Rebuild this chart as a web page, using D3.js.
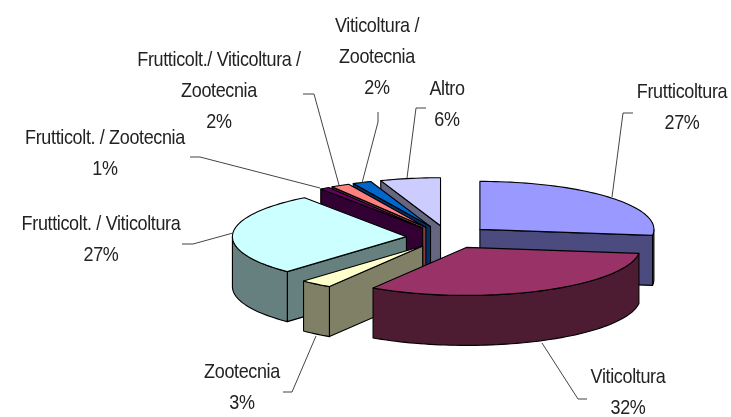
<!DOCTYPE html>
<html><head><meta charset="utf-8">
<script src="https://cdn.jsdelivr.net/npm/d3@7"></script>
<style>html,body{margin:0;padding:0;background:#fff}svg{display:block}</style>
</head><body><div id="c"></div>
<script>
const categories = ["Frutticoltura","Viticoltura","Zootecnia","Frutticolt. / Viticoltura","Frutticolt. / Zootecnia","Frutticolt./ Viticoltura / Zootecnia","Viticoltura / Zootecnia","Altro"];
const values = [27,32,3,27,1,2,2,6];
const topColors = ["#9999ff","#993366","#ffffcc","#ccffff","#660066","#ff8080","#0066cc","#ccccff"];
const sideColors = ["#4c4c80","#4d1a33","#808066","#668080","#330033","#804040","#003366","#666680"];
const labelLines = [["Frutticoltura","27%"],["Viticoltura","32%"],["Zootecnia","3%"],["Frutticolt. / Viticoltura","27%"],["Frutticolt. / Zootecnia","1%"],["Frutticolt./ Viticoltura /","Zootecnia","2%"],["Viticoltura /","Zootecnia","2%"],["Altro","6%"]];
const labelCenters = [[682,91],[628,376],[242,371],[101,223],[105,137],[219,59],[377,25],[447,88]];
const leaders = [
 [[633,113],[623,113],[612,197]],
 [[587,399],[578,399],[542,343]],
 [[283,392],[292,392],[316,336]],
 [[182,244],[193,244],[233,233]],
 [[190,157],[200,157],[320,188]],
 [[303,94],[314,94],[339,185]],
 [[378,112],[378,122],[362,183]],
 [[426,108],[416,108],[407,178]]
];
const W=731,H=417,cx=448.4,cy=237,rx=174,ry=48,depth=50,explodeX=42,explodeY=11.5;
const backWarp=6*Math.PI/180; // foreshortening of the rear-left quadrant

const svg=d3.select("#c").append("svg").attr("width",W).attr("height",H);
const defs=svg.append("defs");
defs.append("filter").attr("id","soft").attr("x","-5%").attr("y","-5%").attr("width","110%").attr("height","110%")
  .append("feGaussianBlur").attr("stdDeviation",0.45);
const root=svg.append("g").attr("filter","url(#soft)");

const PI=Math.PI;
const pie=d3.pie().sort(null).value(d=>d)(values);
const slices=pie.map((p,i)=>{
  const mid=(p.startAngle+p.endAngle)/2;
  return {i,a:p.startAngle,b:p.endAngle,
    ax:cx+explodeX*Math.sin(mid), ay:cy-explodeY*Math.cos(mid)};
});
const line=d3.line();
function warp(t){
  if(t<=1.5*PI) return t;
  const x=t-1.5*PI;
  return t+backWarp*Math.sin(2*x)*Math.cos(x);
}
function rim(s,t,dy=0){const w=warp(t);return [s.ax+rx*Math.sin(w), s.ay-ry*Math.cos(w)+dy];}
function arcPts(s,a,b,dy=0){
  const n=Math.max(2,Math.ceil((b-a)/0.03));
  return d3.range(n+1).map(k=>rim(s,a+(b-a)*k/n,dy));
}
function shape(pts,fill){
  root.append("path").attr("d",line(pts)+"Z").attr("fill",fill)
    .attr("stroke","#000").attr("stroke-width",1.1).attr("stroke-linejoin","round");
}
const sorted=slices.slice().sort((p,q)=>d3.ascending(p.ay,q.ay));
sorted.forEach(s=>{
  const side=sideColors[s.i], top=topColors[s.i];
  const apex=[s.ax,s.ay], apexB=[s.ax,s.ay+depth];
  if(Math.sin(s.a)<0){
    shape([apex,rim(s,s.a),rim(s,s.a,depth),apexB],side);
  }
  if(Math.sin(s.b)>0){
    shape([apex,rim(s,s.b),rim(s,s.b,depth),apexB],side);
  }
  const fa=Math.max(s.a,PI/2), fb=Math.min(s.b,3*PI/2);
  if(fb>fa){
    shape(arcPts(s,fa,fb).concat(arcPts(s,fa,fb,depth).reverse()),side);
  }
  shape([apex].concat(arcPts(s,s.a,s.b)),top);
});

const leaderG=root.append("g");
leaders.forEach(l=>leaderG.append("path").attr("d",line(l)).attr("fill","none").attr("stroke","#444").attr("stroke-width",1));

const text=root.append("g").attr("font-family","'Liberation Sans',Arial,sans-serif").attr("font-size",18).attr("fill","#222").attr("text-anchor","middle");
const lh=31;
labelLines.forEach((ls,i)=>{
  const [x,y]=labelCenters[i];
  ls.forEach((t,k)=>text.append("text")
    .attr("transform",`translate(${x},${y+lh*k+7}) scale(1,1.15)`)
    .attr("letter-spacing",-0.35).text(t));
});
</script></body></html>
